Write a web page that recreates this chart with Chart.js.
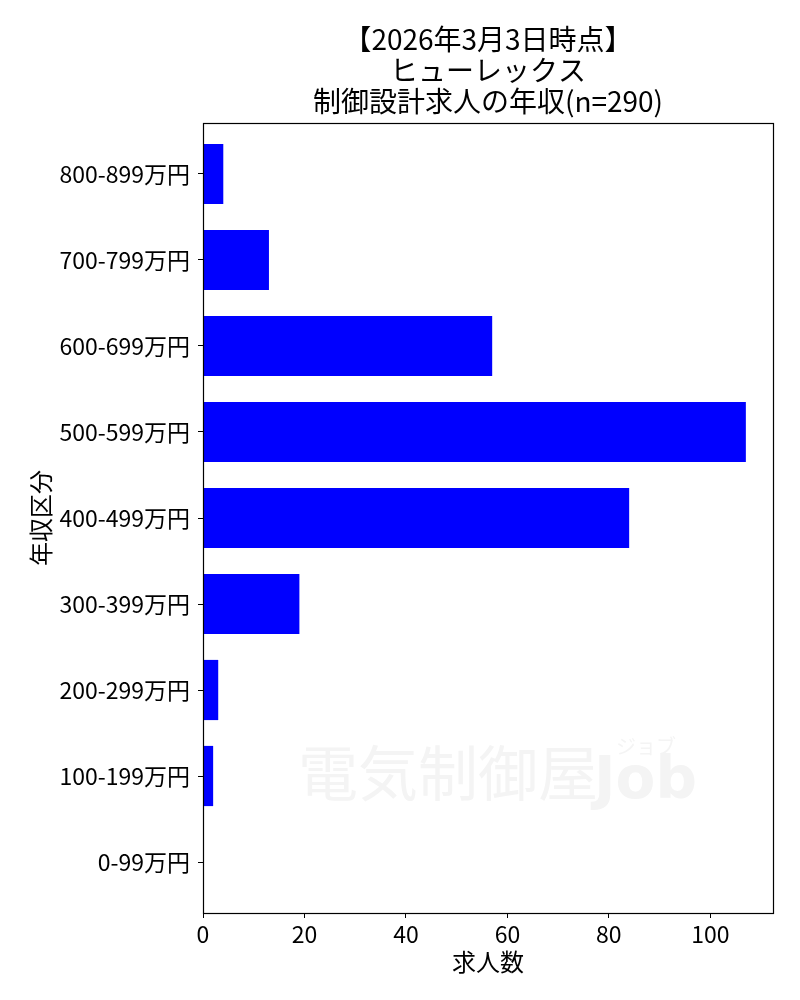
<!DOCTYPE html>
<html lang="ja">
<head>
<meta charset="utf-8">
<script src="https://cdn.jsdelivr.net/npm/chart.js@4.4.1/dist/chart.umd.min.js"></script>
<style>
  html, body { margin: 0; padding: 0; background: #ffffff; }
  #wrap { width: 800px; height: 1000px; }
</style>
</head>
<body>
<div id="wrap"><canvas id="chart" width="800" height="1000"></canvas></div>
<script>
// 年収区分 (top to bottom) and number of job offers in each band
const salaryBands = [
  '800-899万円', '700-799万円', '600-699万円', '500-599万円', '400-499万円',
  '300-399万円', '200-299万円', '100-199万円', '0-99万円'
];
const jobCounts = [4, 13, 57, 107, 84, 19, 3, 2, 0];
const xTicks = [0, 20, 40, 60, 80, 100];
const titleLines = ['【2026年3月3日時点】', 'ヒューレックス', '制御設計求人の年収(n=290)'];

const FONT = "'Noto Sans CJK JP', 'Noto Sans', sans-serif";

// Fixed plot-area geometry
const PLOT = { left: 203, top: 123, right: 773, bottom: 913 };

// Black frame around the plot area
const framePlugin = {
  id: 'frame',
  afterDatasetsDraw(chart) {
    const { ctx, chartArea: a } = chart;
    ctx.save();
    ctx.strokeStyle = '#000';
    ctx.lineWidth = 1.2;
    ctx.strokeRect(Math.round(a.left) + 0.5, Math.round(a.top) + 0.5,
                   Math.round(a.right - a.left), Math.round(a.bottom - a.top));
    ctx.restore();
  }
};

// Faint site logo inside the plot
const logoPlugin = {
  id: 'logo',
  beforeDatasetsDraw(chart) {
    const { ctx } = chart;
    ctx.save();
    ctx.fillStyle = '#f4f4f4';
    ctx.textBaseline = 'alphabetic';
    ctx.textAlign = 'left';
    ctx.font = `400 60px ${FONT}`;
    ctx.fillText('電気制御屋', 298, 796);
    ctx.font = `900 58px 'DejaVu Sans', sans-serif`;
    ctx.fillText('Job', 594, 798);
    ctx.font = `400 20px ${FONT}`;
    ctx.fillText('ジョブ', 616, 754);
    ctx.restore();
  }
};

new Chart(document.getElementById('chart'), {
  type: 'bar',
  data: {
    datasets: [{
      data: jobCounts.map((v, i) => ({ x: v, y: i })),
      backgroundColor: '#0000ff',
      borderWidth: 0,
      barPercentage: 0.7,
      categoryPercentage: 1.0
    }]
  },
  options: {
    indexAxis: 'y',
    responsive: false,
    animation: false,
    layout: { padding: { left: 0, right: 27, top: 0, bottom: 0 } },
    plugins: {
      legend: { display: false },
      tooltip: { enabled: false },
      title: {
        display: true,
        fullSize: false,
        text: titleLines,
        color: '#000',
        font: { family: FONT, size: 28, weight: 'normal', lineHeight: '31px' },
        padding: { top: 24, bottom: 6 }
      }
    },
    scales: {
      x: {
        type: 'linear',
        offset: false,
        min: 0,
        max: 112.35,
        afterBuildTicks(scale) { scale.ticks = xTicks.map(v => ({ value: v })); },
        afterFit(scale) { scale.height = 1000 - PLOT.bottom; },
        border: { display: false },
        grid: { offset: false, drawOnChartArea: false, drawTicks: true, tickLength: 5, color: '#000', lineWidth: 1 },
        ticks: { color: '#000', font: { family: FONT, size: 23 }, padding: 2, maxRotation: 0 },
        title: {
          display: true, text: '求人数', color: '#000',
          font: { family: FONT, size: 24 }, padding: { top: 24, bottom: 24 }
        }
      },
      y: {
        type: 'linear',
        reverse: true,
        offset: false,
        min: -0.593,
        max: 8.593,
        afterBuildTicks(scale) { scale.ticks = salaryBands.map((_, i) => ({ value: i })); },
        afterFit(scale) { scale.width = PLOT.left; },
        border: { display: false },
        grid: { offset: false, drawOnChartArea: false, drawTicks: true, tickLength: 5, color: '#000', lineWidth: 1 },
        ticks: {
          color: '#000', font: { family: FONT, size: 23 }, padding: 8,
          callback: (v) => salaryBands[v] ?? ''
        },
        title: {
          display: true, text: '年収区分', color: '#000',
          font: { family: FONT, size: 24 }, padding: { top: 26, bottom: 26 }
        }
      }
    }
  },
  plugins: [logoPlugin, framePlugin]
});
</script>
</body>
</html>
